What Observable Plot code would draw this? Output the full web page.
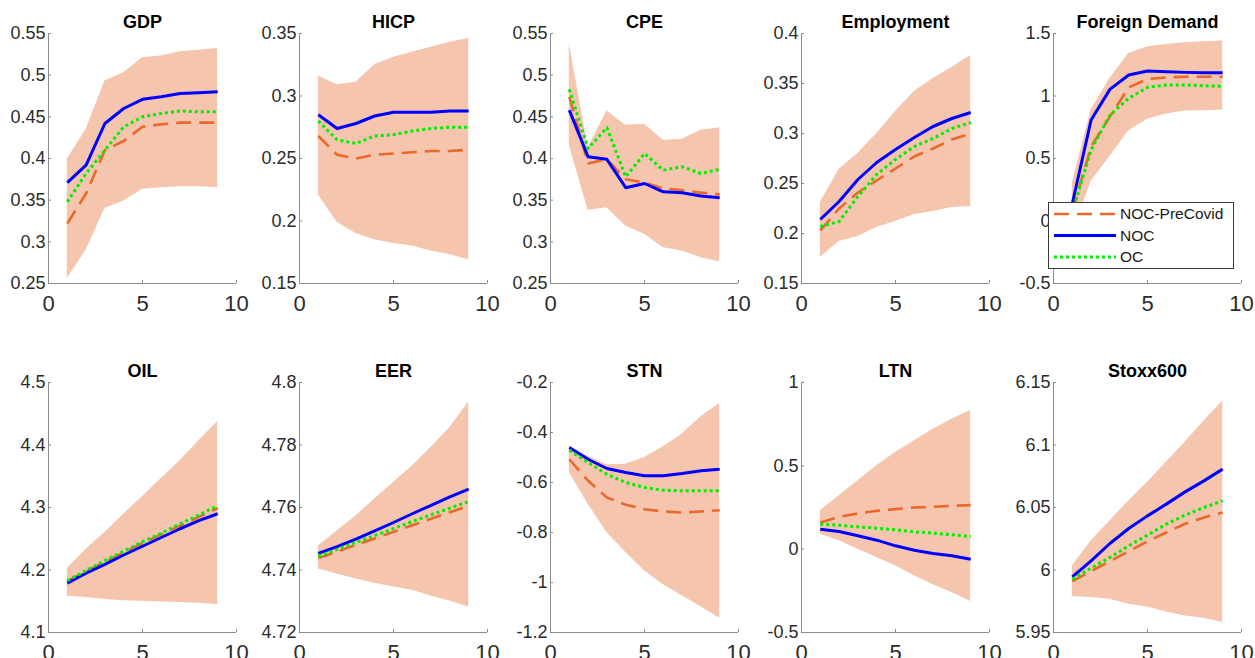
<!DOCTYPE html>
<html>
<head>
<meta charset="utf-8">
<script src="https://cdn.jsdelivr.net/npm/d3@7"></script>
<script src="https://cdn.jsdelivr.net/npm/@observablehq/plot@0.6"></script>
<style>
  html, body { margin: 0; padding: 0; background: #fff; overflow: hidden; }
  #grid { position: relative; width: 1255px; height: 658px; }
  #grid svg.panel { position: absolute; }
  #legend { position: absolute; background: #fff; border: 1px solid #3a3a3a; box-sizing: border-box; }
</style>
</head>
<body>
<div id="grid"></div>
<script>
// Forecast horizon (quarters ahead)
const horizon = [1, 2, 3, 4, 5, 6, 7, 8, 9];

const titles = ["GDP", "HICP", "CPE", "Employment", "Foreign Demand",
                "OIL", "EER", "STN", "LTN", "Stoxx600"];

const seriesNames = ["NOC-PreCovid", "NOC", "OC"];

const xTicks = [0, 5, 10];

const yTicks = [
  [0.25, 0.3, 0.35, 0.4, 0.45, 0.5, 0.55],
  [0.15, 0.2, 0.25, 0.3, 0.35],
  [0.25, 0.3, 0.35, 0.4, 0.45, 0.5, 0.55],
  [0.15, 0.2, 0.25, 0.3, 0.35, 0.4],
  [-0.5, 0, 0.5, 1, 1.5],
  [4.1, 4.2, 4.3, 4.4, 4.5],
  [4.72, 4.74, 4.76, 4.78, 4.8],
  [-1.2, -1, -0.8, -0.6, -0.4, -0.2],
  [-0.5, 0, 0.5, 1],
  [5.95, 6, 6.05, 6.1, 6.15]
];

// NOC estimated on the pre-Covid sample
const nocPreCovid = [
  [0.322, 0.358, 0.410, 0.421, 0.438, 0.441, 0.443, 0.443, 0.443],
  [0.268, 0.253, 0.250, 0.253, 0.254, 0.255, 0.256, 0.256, 0.257],
  [0.474, 0.394, 0.399, 0.375, 0.371, 0.364, 0.362, 0.359, 0.357],
  [0.203, 0.225, 0.241, 0.253, 0.265, 0.277, 0.285, 0.294, 0.300],
  [0.08, 0.596, 0.835, 1.069, 1.136, 1.149, 1.154, 1.154, 1.154],
  [4.182, 4.198, 4.213, 4.228, 4.243, 4.257, 4.271, 4.285, 4.299],
  [4.7438, 4.7459, 4.7480, 4.7501, 4.7522, 4.7543, 4.7564, 4.7585, 4.7605],
  [-0.507, -0.593, -0.660, -0.689, -0.707, -0.716, -0.720, -0.716, -0.711],
  [0.160, 0.194, 0.214, 0.230, 0.240, 0.250, 0.254, 0.260, 0.264],
  [5.991, 5.999, 6.007, 6.015, 6.023, 6.030, 6.037, 6.042, 6.046]
];

const noc = [
  [0.371, 0.392, 0.442, 0.460, 0.471, 0.474, 0.478, 0.479, 0.480],
  [0.285, 0.274, 0.278, 0.284, 0.287, 0.287, 0.287, 0.288, 0.288],
  [0.458, 0.402, 0.399, 0.365, 0.370, 0.360, 0.359, 0.355, 0.353],
  [0.214, 0.232, 0.254, 0.271, 0.284, 0.296, 0.307, 0.315, 0.321],
  [0.14, 0.808, 1.053, 1.168, 1.200, 1.194, 1.189, 1.186, 1.186],
  [4.179, 4.195, 4.209, 4.224, 4.238, 4.252, 4.266, 4.279, 4.290],
  [4.7453, 4.7475, 4.7499, 4.7525, 4.7552, 4.7580, 4.7607, 4.7634, 4.7659],
  [-0.460, -0.507, -0.544, -0.560, -0.573, -0.573, -0.564, -0.553, -0.547],
  [0.120, 0.106, 0.080, 0.054, 0.020, -0.006, -0.026, -0.040, -0.060],
  [5.9945, 6.0073, 6.0212, 6.0332, 6.0433, 6.0527, 6.0625, 6.0713, 6.0807]
];

const oc = [
  [0.348, 0.382, 0.410, 0.438, 0.450, 0.454, 0.457, 0.456, 0.456],
  [0.280, 0.265, 0.262, 0.268, 0.269, 0.272, 0.274, 0.275, 0.275],
  [0.483, 0.412, 0.437, 0.378, 0.406, 0.386, 0.390, 0.382, 0.387],
  [0.207, 0.212, 0.237, 0.259, 0.274, 0.287, 0.295, 0.305, 0.311],
  [0.07, 0.569, 0.848, 0.981, 1.069, 1.088, 1.088, 1.082, 1.078],
  [4.183, 4.199, 4.215, 4.230, 4.245, 4.259, 4.274, 4.288, 4.303],
  [4.7444, 4.7466, 4.7488, 4.7510, 4.7533, 4.7555, 4.7577, 4.7598, 4.7619],
  [-0.471, -0.520, -0.567, -0.600, -0.620, -0.631, -0.633, -0.633, -0.633],
  [0.150, 0.144, 0.134, 0.126, 0.116, 0.104, 0.096, 0.086, 0.076],
  [5.9927, 6.0015, 6.0100, 6.0193, 6.0279, 6.0367, 6.0439, 6.0500, 6.0553]
];

// Credible band around the pre-Covid NOC forecast
const bandLow = [
  [0.256, 0.290, 0.340, 0.349, 0.363, 0.365, 0.366, 0.366, 0.365],
  [0.221, 0.199, 0.190, 0.185, 0.182, 0.180, 0.176, 0.173, 0.169],
  [0.416, 0.338, 0.341, 0.319, 0.309, 0.293, 0.289, 0.281, 0.276],
  [0.176, 0.192, 0.197, 0.206, 0.212, 0.219, 0.222, 0.226, 0.227],
  [-0.1, 0.316, 0.516, 0.723, 0.814, 0.856, 0.880, 0.883, 0.888],
  [4.158, 4.156, 4.153, 4.151, 4.150, 4.149, 4.148, 4.147, 4.145],
  [4.7403, 4.7387, 4.7371, 4.7358, 4.7346, 4.7335, 4.7317, 4.7301, 4.7282],
  [-0.560, -0.687, -0.800, -0.880, -0.953, -1.009, -1.053, -1.097, -1.143],
  [0.09, 0.05, 0.0, -0.05, -0.10, -0.16, -0.214, -0.26, -0.314],
  [5.9788, 5.9780, 5.9767, 5.9727, 5.9705, 5.9665, 5.9633, 5.9615, 5.9580]
];

const bandHigh = [
  [0.399, 0.435, 0.493, 0.503, 0.521, 0.523, 0.528, 0.530, 0.532],
  [0.316, 0.309, 0.311, 0.325, 0.331, 0.335, 0.339, 0.343, 0.346],
  [0.538, 0.413, 0.457, 0.440, 0.441, 0.422, 0.423, 0.434, 0.437],
  [0.231, 0.264, 0.280, 0.300, 0.322, 0.342, 0.355, 0.366, 0.378],
  [0.30, 0.888, 1.141, 1.340, 1.394, 1.412, 1.426, 1.434, 1.441],
  [4.2024, 4.2333, 4.2600, 4.2893, 4.3176, 4.3464, 4.3747, 4.4067, 4.4376],
  [4.7477, 4.7525, 4.7573, 4.7627, 4.7680, 4.7733, 4.7792, 4.7856, 4.7938],
  [-0.455, -0.495, -0.529, -0.527, -0.500, -0.457, -0.407, -0.337, -0.284],
  [0.23, 0.32, 0.41, 0.50, 0.58, 0.65, 0.72, 0.78, 0.834],
  [6.0033, 6.0233, 6.0393, 6.0553, 6.0703, 6.0863, 6.1023, 6.1193, 6.1353]
];

// Styling
const fontFamily = "'Liberation Sans', Arial, Helvetica, sans-serif";
const bandFill = "#f5c5ae";
const orange = "#e9692c";
const blue = "#0000ff";
const green = "#00ee00";
const axisGray = "#8c8c8c";
const textGray = "#2b2b2b";
const lineStyles = [
  {stroke: orange, strokeWidth: 2.6, strokeDasharray: "15,8", strokeLinecap: "butt"},
  {stroke: blue, strokeWidth: 3, strokeLinecap: "butt"},
  {stroke: green, strokeWidth: 3, strokeDasharray: "3,3", strokeLinecap: "butt"}
];

// Layout of the 2 x 5 grid (left edge of each y axis, top edge of each row)
const axisLeft = [48, 299, 550, 801, 1053];
const axisTop = [33, 382];
const plotW = 188, plotH = 250;
const mL = 48, mR = 15, mT = 33, mB = 45;

const fmt = d => String(+d.toFixed(6));

const grid = document.getElementById("grid");

titles.forEach((title, i) => {
  const col = i % 5, row = Math.floor(i / 5);
  const ticks = yTicks[i];
  const yMin = ticks[0], yMax = ticks[ticks.length - 1];
  const rows = horizon.map((h, k) => ({
    h,
    lo: bandLow[i][k], hi: bandHigh[i][k],
    pre: nocPreCovid[i][k], noc: noc[i][k], oc: oc[i][k]
  }));

  const chart = Plot.plot({
    width: mL + plotW + mR,
    height: mT + plotH + mB,
    marginLeft: mL, marginRight: mR, marginTop: mT, marginBottom: mB,
    style: {fontFamily, background: "transparent", overflow: "visible"},
    x: {domain: [0, 10]},
    y: {domain: [yMin, yMax]},
    marks: [
      Plot.areaY(rows, {x: "h", y1: "lo", y2: "hi", fill: bandFill}),
      Plot.lineY(rows, {x: "h", y: "pre", ...lineStyles[0]}),
      Plot.lineY(rows, {x: "h", y: "noc", ...lineStyles[1]}),
      Plot.lineY(rows, {x: "h", y: "oc", ...lineStyles[2]}),
      Plot.ruleX([0], {stroke: axisGray}),
      Plot.ruleY([yMin], {stroke: axisGray}),
      Plot.tickX(xTicks, {x: d => d, stroke: axisGray, insetTop: plotH - 3}),
      Plot.tickY(ticks, {y: d => d, stroke: axisGray, insetRight: plotW - 3}),
      Plot.axisX(xTicks, {label: null, tickSize: 0, tickPadding: 12, fontSize: 22, fill: textGray, tickFormat: fmt}),
      Plot.axisY(ticks, {label: null, tickSize: 0, tickPadding: 3, fontSize: 18, fill: textGray, tickFormat: fmt}),
      Plot.text([title], {text: d => d, frameAnchor: "top", lineAnchor: "middle", dy: -11.5,
                          fontSize: 18, fontWeight: "bold", fill: "#000"})
    ]
  });
  chart.classList.add("panel");
  chart.style.left = (axisLeft[col] - mL) + "px";
  chart.style.top = (axisTop[row] - mT) + "px";
  grid.appendChild(chart);
});

// Legend box drawn over the Foreign Demand panel
const legend = document.createElement("div");
legend.id = "legend";
const lgW = 186, lgH = 67;
Object.assign(legend.style, {left: "1048px", top: "202px", width: lgW + "px", height: lgH + "px"});
const ns = "http://www.w3.org/2000/svg";
const lsvg = document.createElementNS(ns, "svg");
lsvg.setAttribute("width", lgW - 2);
lsvg.setAttribute("height", lgH - 2);
seriesNames.forEach((name, k) => {
  const y = 11 + k * 21.5;
  const ln = document.createElementNS(ns, "line");
  ln.setAttribute("x1", 5); ln.setAttribute("x2", 67);
  ln.setAttribute("y1", y); ln.setAttribute("y2", y);
  ln.setAttribute("stroke", lineStyles[k].stroke);
  ln.setAttribute("stroke-width", lineStyles[k].strokeWidth);
  if (lineStyles[k].strokeDasharray) ln.setAttribute("stroke-dasharray", lineStyles[k].strokeDasharray);
  lsvg.appendChild(ln);
  const tx = document.createElementNS(ns, "text");
  tx.setAttribute("x", 71); tx.setAttribute("y", y);
  tx.setAttribute("dy", "0.35em");
  tx.setAttribute("font-family", fontFamily);
  tx.setAttribute("font-size", 15.5);
  tx.setAttribute("fill", "#1a1a1a");
  tx.textContent = name;
  lsvg.appendChild(tx);
});
legend.appendChild(lsvg);
grid.appendChild(legend);
</script>
</body>
</html>
